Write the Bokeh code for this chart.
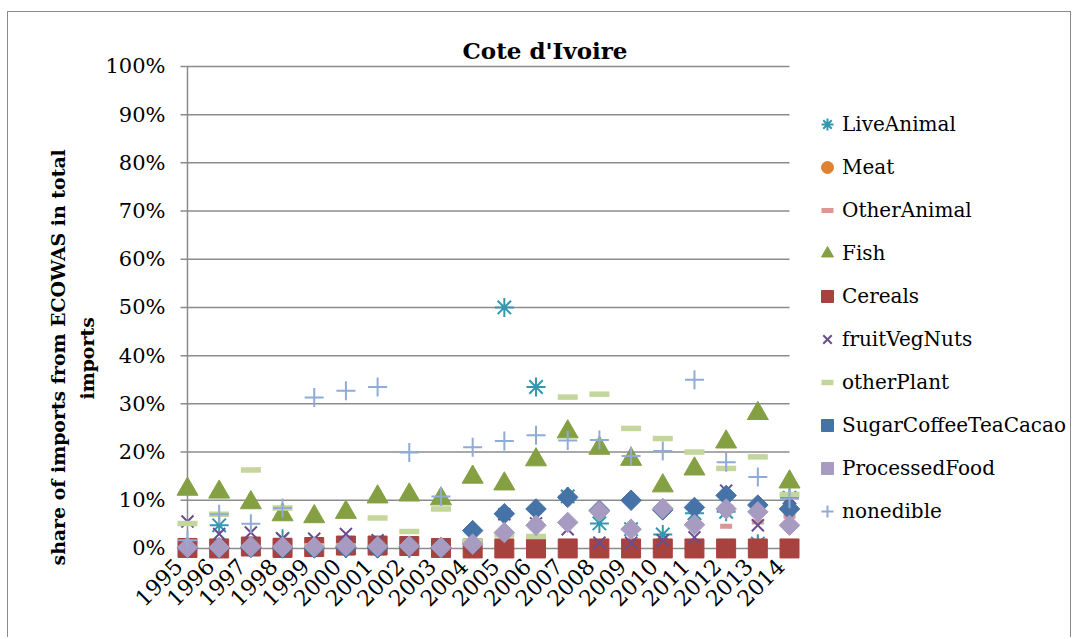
import numpy as np
from bokeh.plotting import figure
from bokeh.models import (ColumnDataSource, Range1d, FixedTicker, NumeralTickFormatter,
                          Legend, LegendItem, Title, LinearAxis)
from bokeh.embed import file_html
from bokeh.resources import INLINE

# ---------------- data (percent of total imports) ----------------
years = [1995, 1996, 1997, 1998, 1999, 2000, 2001, 2002, 2003, 2004,
         2005, 2006, 2007, 2008, 2009, 2010, 2011, 2012, 2013, 2014]

live_animal = [0.3, 4.8, 0.5, 2.0, 0.0, 0.0, 0.0, 0.0, 0.0, 0.0,
               50.0, 33.5, 10.8, 5.2, 4.0, 2.9, 7.3, 7.6, 1.0, 10.5]
meat = [0.2, 0.1, 0.1, 0.3, 0.1, 0.2, 0.1, 0.1, 0.0, 0.0,
        0.0, 0.0, 0.0, 0.0, 0.0, 0.0, 0.0, 0.0, 0.1, 0.1]
other_animal = [0.0, 0.0, 0.0, 0.0, 0.0, 0.0, 0.0, 0.0, 0.0, 0.0,
                0.0, 0.0, 0.0, 0.0, 0.0, 0.0, 0.0, 4.6, 5.5, 6.7]
fish = [12.3, 11.7, 9.5, 7.0, 6.6, 7.5, 10.7, 11.1, 10.3, 14.8,
        13.4, 18.4, 24.2, 20.8, 18.5, 13.0, 16.5, 22.1, 28.0, 13.8]
cereals = [0.1, 0.0, 0.4, 0.1, 0.3, 0.6, 0.6, 0.5, 0.1, 0.0,
           0.0, 0.0, 0.0, 0.0, 0.0, 0.0, 0.0, 0.0, 0.0, 0.0]
fruit_veg_nuts = [5.6, 3.0, 3.3, 2.0, 2.0, 3.0, 1.7, 1.0, 0.5, 0.5,
                  7.1, 5.2, 4.0, 1.2, 1.2, 1.7, 2.3, 12.0, 4.8, 10.5]
other_plant = [5.2, 7.1, 16.3, 8.4, 0.5, 0.5, 6.3, 3.5, 8.2, 1.5,
               2.8, 2.5, 31.4, 32.0, 24.9, 22.8, 20.0, 16.6, 19.0, 11.2]
sugar_coffee = [0.1, 0.1, 0.2, 0.1, 0.1, 0.2, 0.1, 0.4, 0.2, 3.7,
                7.2, 8.2, 10.6, 7.9, 10.0, 8.0, 8.5, 11.0, 9.0, 8.2]
processed_food = [0.2, 0.2, 0.4, 0.3, 0.3, 0.5, 0.4, 0.5, 0.2, 0.9,
                  3.3, 4.8, 5.4, 7.7, 4.0, 8.3, 4.9, 8.2, 7.6, 4.8]
nonedible = [1.7, 7.1, 5.1, 8.4, 31.3, 32.7, 33.5, 19.9, 10.8, 21.0,
             22.3, 23.5, 22.4, 22.5, 19.2, 20.2, 35.0, 17.9, 14.8, 10.3]

series_names = ["LiveAnimal", "Meat", "OtherAnimal", "Fish", "Cereals", "fruitVegNuts",
                "otherPlant", "SugarCoffeeTeaCacao", "ProcessedFood", "nonedible"]
series_values = [live_animal, meat, other_animal, fish, cereals, fruit_veg_nuts,
                 other_plant, sugar_coffee, processed_food, nonedible]

y_ticks = [0.0, 0.1, 0.2, 0.3, 0.4, 0.5, 0.6, 0.7, 0.8, 0.9, 1.0]

title_text = "Cote d'Ivoire"
y_label_line1 = "share of imports from ECOWAS in total"
y_label_line2 = "imports"

# ---------------- styles ----------------
FONT = "DejaVu Serif"
GRID = "#8c8c8c"
styles = {
    "LiveAnimal":          dict(marker="asterisk", color="#3397AE", size=19, lw=2.0, fill=False, angle=0.0),
    "Meat":                dict(marker="circle",   color="#DF8332", size=16, lw=1.0, fill=True,  angle=0.0),
    "OtherAnimal":         dict(marker="dash",     color="#D99795", size=12, lw=5.0, fill=False, angle=0.0),
    "Fish":                dict(marker="triangle", color="#84A043", size=21, lw=1.0, fill=True,  angle=0.0),
    "Cereals":             dict(marker="square",   color="#A8423F", size=19, lw=1.0, fill=True,  angle=0.0),
    "fruitVegNuts":        dict(marker="x",        color="#6A4E8C", size=17, lw=2.0, fill=False, angle=0.0),
    "otherPlant":          dict(marker="dash",     color="#C3D69B", size=20, lw=5.5, fill=False, angle=0.0),
    "SugarCoffeeTeaCacao": dict(marker="square",   color="#4572A7", size=14.5, lw=1.0, fill=True, angle=np.pi / 4),
    "ProcessedFood":       dict(marker="square",   color="#A89BC2", size=14.5, lw=1.0, fill=True, angle=np.pi / 4),
    "nonedible":           dict(marker="cross",    color="#8FABD6", size=19, lw=2.0, fill=False, angle=0.0),
}

# ---------------- figure ----------------
# frame: 1995 at 13px from its left edge; extra room on the right holds the legend
x_start, x_end = years[0] - 0.41, years[-1] + 8.742
label_shift = 0.284  # rotated year labels end just left of their category
p = figure(width=1064, height=626,
           x_range=Range1d(x_start, x_end),
           y_range=Range1d(-0.025, 1.004),
           x_axis_location=None,
           output_backend="svg", toolbar_location=None,
           min_border_left=166, min_border_right=6,
           min_border_top=52, min_border_bottom=78)
p.extra_x_ranges = {"labels": Range1d(x_start + label_shift, x_end + label_shift)}
p.outline_line_color = None
p.background_fill_color = "white"
p.border_fill_color = "white"
p.xgrid.visible = False
p.ygrid.visible = False
p.styles = {"margin-left": "7px", "margin-top": "11px",
            "border-top": "1px solid #8a8a8a", "border-left": "1px solid #8a8a8a",
            "border-right": "1px solid #8a8a8a"}

# title
p.title.text = title_text
p.title.align = "left"
p.title.offset = 288
p.title.standoff = 2
p.title.text_font = FONT
p.title.text_font_style = "bold"
p.title.text_font_size = "23px"
p.title.text_color = "black"

# horizontal gridlines (starting 7px left of the first year, like tick marks)
tick_ext = 7 / 31.685
p.segment(x0=[years[0] - tick_ext] * len(y_ticks), y0=y_ticks,
          x1=[years[-1]] * len(y_ticks), y1=y_ticks,
          line_color=GRID, line_width=1.5)
# vertical value axis line at the first category
p.segment(x0=[years[0]], y0=[y_ticks[0]], x1=[years[0]], y1=[y_ticks[-1]],
          line_color=GRID, line_width=1.5)

items = []
for name, vals in zip(series_names, series_values):
    st = styles[name]
    src = ColumnDataSource(dict(x=years, y=[v / 100.0 for v in vals]))
    r = p.scatter("x", "y", source=src, marker=st["marker"], size=st["size"],
                  angle=st["angle"], line_color=st["color"], line_width=st["lw"],
                  fill_color=st["color"] if st["fill"] else None)
    items.append(LegendItem(label=name, renderers=[r]))

legend = Legend(items=items, location=(638, 32), glyph_width=30, glyph_height=34,
                spacing=9, label_standoff=0, padding=0, margin=0,
                border_line_color=None, background_fill_alpha=0,
                label_text_font=FONT, label_text_font_size="20px",
                label_text_color="black")
p.add_layout(legend, "center")

# x axis (category labels)
xa = LinearAxis(x_range_name="labels")
xa.ticker = FixedTicker(ticks=years)
xa.major_label_overrides = {y: str(y) for y in years}
xa.major_label_orientation = np.pi / 4
xa.axis_line_color = None
xa.major_tick_line_color = None
xa.minor_tick_line_color = None
xa.major_tick_out = 0
xa.major_label_standoff = 2
xa.major_label_text_font = FONT
xa.major_label_text_font_size = "22px"
xa.major_label_text_color = "black"
p.add_layout(xa, "below")

# y axis (labels only; line and ticks are drawn as segments)
ya = p.yaxis[0]
ya.ticker = FixedTicker(ticks=y_ticks)
ya.formatter = NumeralTickFormatter(format="0%")
ya.axis_line_color = None
ya.major_tick_line_color = None
ya.minor_tick_line_color = None
ya.major_tick_out = 0
ya.major_tick_in = 0
ya.major_label_standoff = 9
ya.major_label_text_font = FONT
ya.major_label_text_font_size = "21px"
ya.major_label_text_color = "black"

# y axis title as two rotated titles on the left
for txt, off, so in ((y_label_line2, 161, 10), (y_label_line1, -5, 0)):
    t = Title(text=txt, align="left", offset=off, standoff=so,
              text_font=FONT, text_font_style="bold", text_font_size="18.9px",
              text_color="black")
    p.add_layout(t, "left")

open("out.html", "w").write(file_html(p, INLINE))
